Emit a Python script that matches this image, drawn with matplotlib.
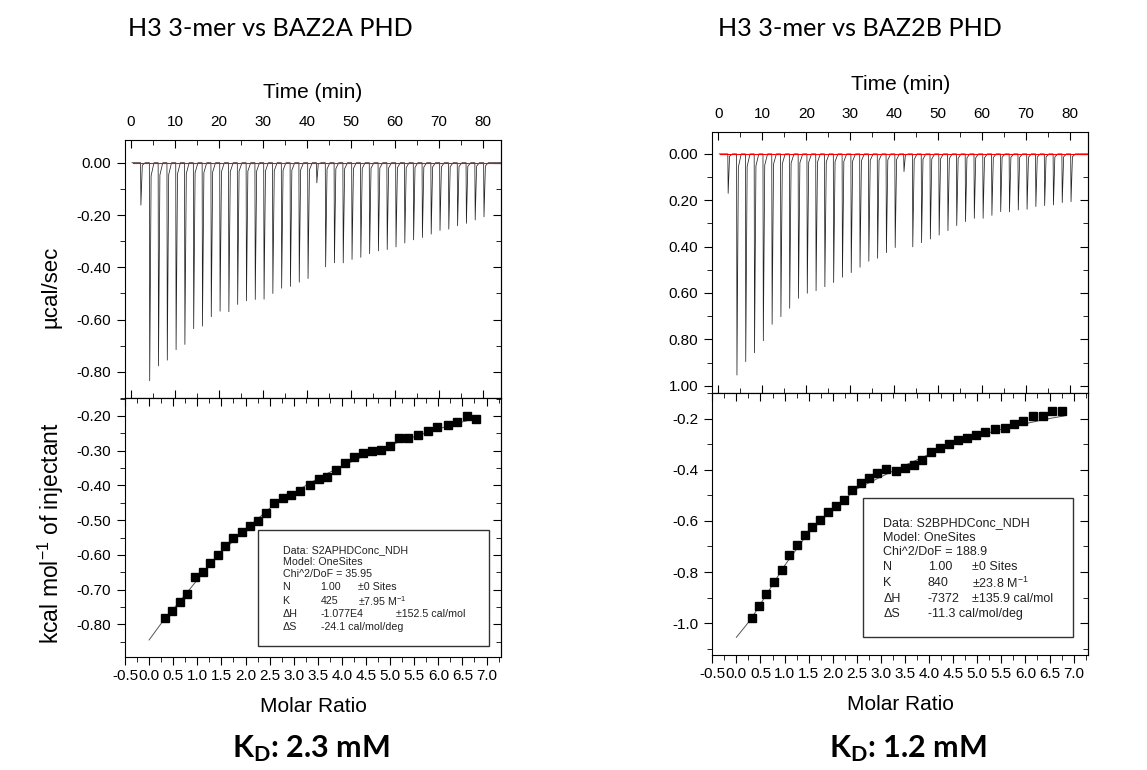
import numpy as np
import matplotlib.pyplot as plt
from matplotlib.ticker import MultipleLocator, FixedLocator, FixedFormatter
from matplotlib.patches import Rectangle

plt.rcParams['font.family'] = ['Liberation Sans', 'DejaVu Sans']
plt.rcParams['mathtext.fontset'] = 'custom'
plt.rcParams['mathtext.rm'] = 'Liberation Sans'
plt.rcParams['mathtext.bf'] = 'Lato:bold'

# injection times (min), both runs
inj_time = [2.2, 4.2, 6.2, 8.2, 10.2, 12.2, 14.2, 16.2, 18.2, 20.2,
            22.2, 24.2, 26.2, 28.2, 30.2, 32.2, 34.2, 36.2, 38.2, 40.2,
            42.2, 44.2, 46.2, 48.2, 50.2, 52.2, 54.2, 56.2, 58.2, 60.2,
            62.2, 64.2, 66.2, 68.2, 70.2, 72.2, 74.2, 76.2, 78.2, 80.2]

# raw peak depths (ucal/sec)
peak_a = [-0.162, -0.834, -0.777, -0.755, -0.715, -0.695, -0.635, -0.625, -0.589, -0.568,
          -0.570, -0.542, -0.528, -0.523, -0.522, -0.500, -0.480, -0.473, -0.457, -0.443,
          -0.077, -0.398, -0.383, -0.383, -0.370, -0.362, -0.348, -0.337, -0.332, -0.322,
          -0.307, -0.295, -0.286, -0.273, -0.259, -0.254, -0.241, -0.232, -0.219, -0.207]
peak_b = [-0.170, -0.954, -0.896, -0.858, -0.806, -0.735, -0.702, -0.666, -0.623, -0.601,
          -0.590, -0.573, -0.555, -0.532, -0.512, -0.489, -0.463, -0.450, -0.426, -0.404,
          -0.076, -0.401, -0.383, -0.367, -0.350, -0.331, -0.309, -0.292, -0.278, -0.278,
          -0.265, -0.249, -0.250, -0.242, -0.239, -0.227, -0.223, -0.220, -0.210, -0.206]

# integrated heats (kcal/mol of injectant)
ratio_a = [0.32, 0.48, 0.635, 0.79, 0.95, 1.11, 1.27, 1.42, 1.58, 1.74, 1.92, 2.09, 2.26,
           2.43, 2.60, 2.77, 2.95, 3.12, 3.34, 3.52, 3.69, 3.88, 4.07, 4.26, 4.43, 4.62,
           4.81, 5.00, 5.19, 5.38, 5.58, 5.79, 5.98, 6.19, 6.39, 6.59, 6.79]
heat_a = [-0.782, -0.761, -0.737, -0.712, -0.665, -0.648, -0.623, -0.601, -0.574, -0.551,
          -0.534, -0.517, -0.501, -0.478, -0.451, -0.437, -0.428, -0.415, -0.400, -0.382,
          -0.376, -0.356, -0.336, -0.318, -0.307, -0.300, -0.299, -0.285, -0.263, -0.262,
          -0.254, -0.242, -0.231, -0.225, -0.217, -0.199, -0.209]
ratio_b = [0.32, 0.48, 0.625, 0.78, 0.94, 1.10, 1.26, 1.415, 1.57, 1.74, 1.91, 2.07, 2.24,
           2.41, 2.59, 2.75, 2.92, 3.11, 3.32, 3.50, 3.68, 3.86, 4.04, 4.22, 4.41, 4.60,
           4.79, 4.97, 5.17, 5.37, 5.57, 5.77, 5.96, 6.16, 6.36, 6.56, 6.76]
heat_b = [-0.979, -0.931, -0.884, -0.840, -0.791, -0.735, -0.695, -0.657, -0.623, -0.597,
          -0.564, -0.543, -0.519, -0.481, -0.453, -0.434, -0.411, -0.396, -0.405, -0.395,
          -0.381, -0.363, -0.331, -0.316, -0.300, -0.282, -0.276, -0.264, -0.251, -0.242,
          -0.239, -0.220, -0.209, -0.192, -0.192, -0.170, -0.171]

# one-site fit curves
fit_x = [0.0, 0.3, 0.6, 1.0, 1.5, 2.0, 2.5, 3.0, 3.5, 4.0, 4.5, 5.0, 5.5, 6.0, 6.5, 6.8]
fit_a = [-0.845, -0.788, -0.740, -0.672, -0.592, -0.527, -0.466, -0.421, -0.380, -0.344,
         -0.313, -0.284, -0.260, -0.237, -0.217, -0.206]
fit_b = [-1.055, -0.985, -0.895, -0.775, -0.645, -0.555, -0.475, -0.428, -0.383, -0.340,
         -0.300, -0.268, -0.242, -0.220, -0.200, -0.190]

info_a = [["Data: S2APHDConc_NDH"], ["Model: OneSites"], ["Chi^2/DoF = 35.95"],
          ["N", "1.00", "\u00b10 Sites"], ["K", "425", "\u00b17.95 M$^{-1}$"],
          ["\u0394H", "-1.077E4", "", "\u00b1152.5 cal/mol"], ["\u0394S", "-24.1 cal/mol/deg"]]
info_b = [["Data: S2BPHDConc_NDH"], ["Model: OneSites"], ["Chi^2/DoF = 188.9"],
          ["N", "1.00", "\u00b10 Sites"], ["K", "840", "\u00b123.8 M$^{-1}$"],
          ["\u0394H", "-7372", "\u00b1135.9 cal/mol"], ["\u0394S", "-11.3 cal/mol/deg"]]

titles = ["H3 3-mer vs BAZ2A PHD", "H3 3-mer vs BAZ2B PHD"]
kd_text = [r"$\mathbf{K_D}$: 2.3 mM", r"$\mathbf{K_D}$: 1.2 mM"]

TICK = 11


def thermogram(ax, times, peaks, ylim, yticks, ylabels):
    tt, yy = [0.2], [0.0]
    for t, d in zip(times, peaks):
        tt += [t - 0.05, t + 0.03, t + 0.35, t + 1.0]
        yy += [0.0, d, 0.06 * d, 0.0]
    tt.append(84.0)
    yy.append(0.0)
    ax.plot(tt, yy, color='#222222', lw=0.55)
    ax.axhline(0, xmin=0.02, color='red', lw=0.8)
    ax.set_xlim(-1.38, 84.1)
    ax.set_ylim(*ylim)
    ax.xaxis.set_major_locator(MultipleLocator(10))
    ax.xaxis.set_minor_locator(MultipleLocator(5))
    ax.tick_params(axis='x', which='both', direction='in', top=True, bottom=True,
                   labeltop=True, labelbottom=False, labelsize=TICK, pad=8)
    ax.tick_params(axis='x', which='major', length=6)
    ax.tick_params(axis='x', which='minor', length=3.5)
    ax.xaxis.set_label_position('top')
    ax.set_xlabel("Time (min)", fontsize=15, labelpad=12)
    ax.yaxis.set_major_locator(FixedLocator(yticks))
    ax.yaxis.set_major_formatter(FixedFormatter(ylabels))
    ax.yaxis.set_minor_locator(MultipleLocator(0.1))
    ax.tick_params(axis='y', which='both', direction='out', right=False, labelsize=TICK, pad=4)
    ax.tick_params(axis='y', which='major', length=6)
    ax.tick_params(axis='y', which='minor', length=3.5)
    sec = ax.secondary_yaxis('right')
    sec.yaxis.set_major_locator(FixedLocator(yticks))
    sec.yaxis.set_minor_locator(MultipleLocator(0.1))
    sec.tick_params(which='both', direction='in', labelright=False)
    sec.tick_params(which='major', length=6)
    sec.tick_params(which='minor', length=3.5)


def isotherm(ax, ratio, heat, fit_y, ylim, ymajor, yminor, fmt):
    ax.plot(fit_x, fit_y, color='#555555', lw=0.7)
    ax.plot(ratio, heat, 's', color='black', ms=6.2)
    ax.set_xlim(-0.5, 7.3)
    ax.set_ylim(*ylim)
    ax.xaxis.set_major_locator(MultipleLocator(0.5))
    ax.xaxis.set_minor_locator(MultipleLocator(0.25))
    ax.xaxis.set_major_formatter(plt.FormatStrFormatter('%.1f'))
    ax.tick_params(axis='x', which='both', direction='out', top=False, labelsize=TICK, pad=3)
    ax.tick_params(axis='x', which='major', length=6)
    ax.tick_params(axis='x', which='minor', length=3.5)
    ax.set_xlabel("Molar Ratio", fontsize=15, labelpad=10)
    ax.yaxis.set_major_locator(MultipleLocator(ymajor))
    ax.yaxis.set_minor_locator(MultipleLocator(yminor))
    ax.yaxis.set_major_formatter(plt.FormatStrFormatter(fmt))
    ax.tick_params(axis='y', which='both', direction='out', right=False, labelsize=TICK, pad=4)
    ax.tick_params(axis='y', which='major', length=6)
    ax.tick_params(axis='y', which='minor', length=3.5)
    sx = ax.secondary_xaxis('top')
    sx.xaxis.set_major_locator(MultipleLocator(0.5))
    sx.xaxis.set_minor_locator(MultipleLocator(0.25))
    sx.tick_params(which='both', direction='in', labeltop=False)
    sx.tick_params(which='major', length=6)
    sx.tick_params(which='minor', length=3.5)
    sy = ax.secondary_yaxis('right')
    sy.yaxis.set_major_locator(MultipleLocator(ymajor))
    sy.yaxis.set_minor_locator(MultipleLocator(yminor))
    sy.tick_params(which='both', direction='in', labelright=False)
    sy.tick_params(which='major', length=6)
    sy.tick_params(which='minor', length=3.5)


def info_box(ax, rows, box, line_y, cols, size):
    ax.add_patch(Rectangle((box[0], box[1]), box[2] - box[0], box[3] - box[1],
                           transform=ax.transAxes, fill=False, ec='#333333', lw=1.0))
    for row, y in zip(rows, line_y):
        for txt, x in zip(row, cols):
            if txt:
                ax.text(x, y, txt, transform=ax.transAxes, fontsize=size,
                        va='center', ha='left', color='#222222')


fig = plt.figure(figsize=(11.47, 7.70), dpi=100)

# BAZ2A
ax1 = fig.add_axes([0.1090, 0.4831, 0.3278, 0.3351])
thermogram(ax1, inj_time, peak_a, (-0.90, 0.087),
           [0.0, -0.2, -0.4, -0.6, -0.8], ["0.00", "-0.20", "-0.40", "-0.60", "-0.80"])
ax2 = fig.add_axes([0.1090, 0.1468, 0.3278, 0.3364])
isotherm(ax2, ratio_a, heat_a, fit_a, (-0.894, -0.148), 0.1, 0.05, '%.2f')
info_box(ax2, info_a, (0.353, 0.042, 0.968, 0.490),
         [0.413, 0.366, 0.319, 0.270, 0.216, 0.166, 0.117],
         [0.419, 0.520, 0.619, 0.720], 7.7)

# BAZ2B
ax3 = fig.add_axes([0.6210, 0.4896, 0.3276, 0.3394])
thermogram(ax3, inj_time, peak_b, (-1.0315, 0.096),
           [0.0, -0.2, -0.4, -0.6, -0.8, -1.0], ["0.00", "0.20", "0.40", "0.60", "0.80", "1.00"])
ax4 = fig.add_axes([0.6210, 0.1494, 0.3276, 0.3403])
isotherm(ax4, ratio_b, heat_b, fit_b, (-1.124, -0.10), 0.2, 0.1, '%.1f')
info_box(ax4, info_b, (0.402, 0.068, 0.961, 0.598),
         [0.503, 0.448, 0.392, 0.336, 0.274, 0.214, 0.156],
         [0.455, 0.573, 0.692], 9)

fig.text(0.0445, 1 - 287 / 770, "\u00b5cal/sec", rotation=90, fontsize=16, ha='center', va='center')
fig.text(0.0445, 1 - 533 / 770, "kcal mol$^{-1}$ of injectant", rotation=90, fontsize=16.5,
         ha='center', va='center')

for x, t in zip([270 / 1147, 860 / 1147], titles):
    fig.text(x, 1 - 29 / 770, t, fontsize=18.2, family='Lato', ha='center', va='center')
for x, t in zip([311 / 1147, 908 / 1147], kd_text):
    fig.text(x, 1 - 749 / 770, t, fontsize=22, family='Lato', weight='bold',
             ha='center', va='center')

fig.savefig("out.png", dpi=100, facecolor='white')
